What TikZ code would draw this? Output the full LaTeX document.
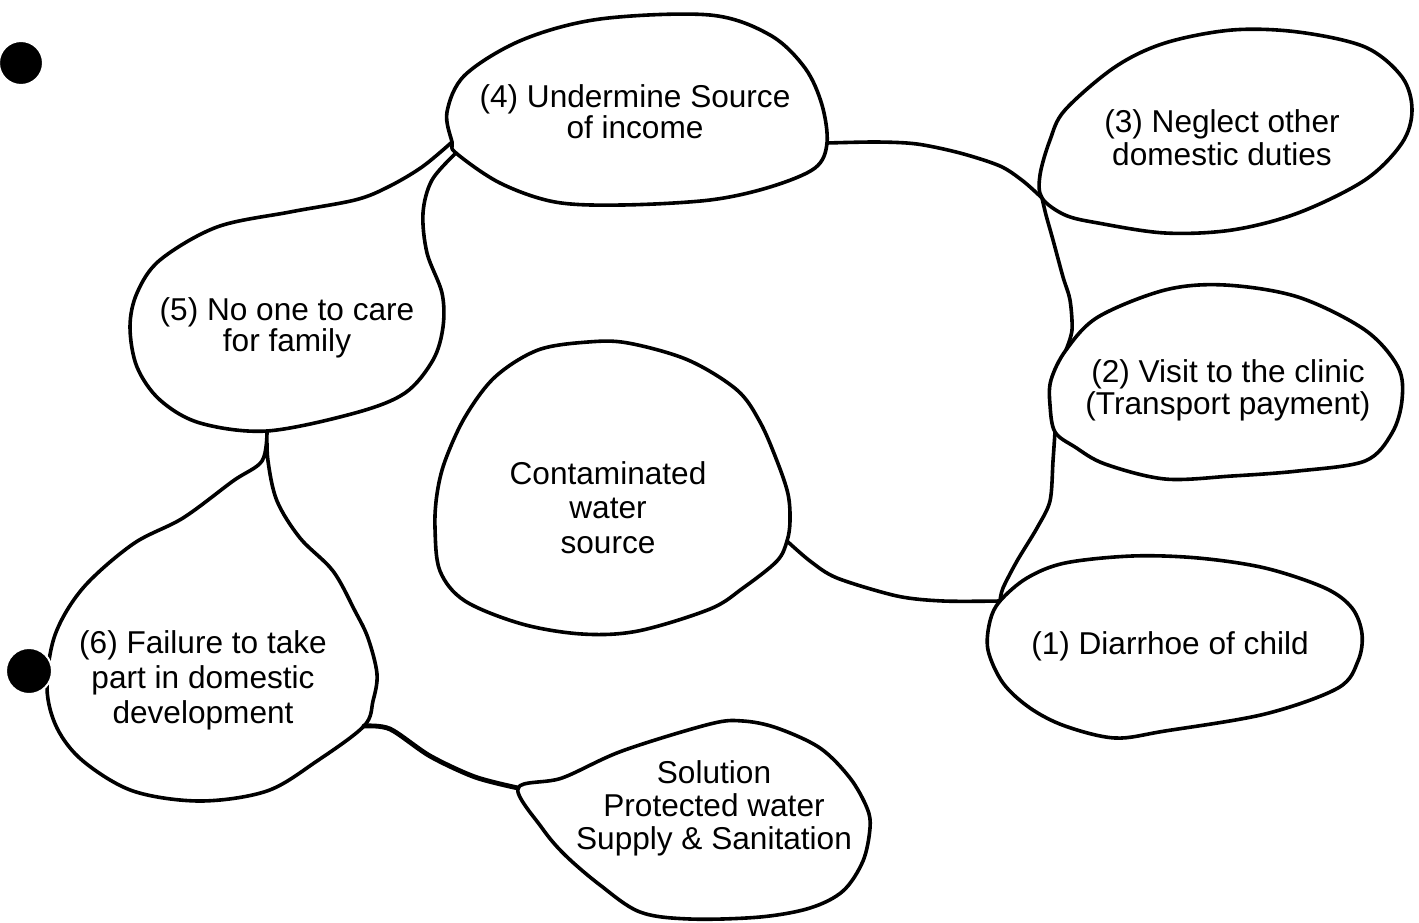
\documentclass[tikz,border=0pt]{standalone}
\usepackage{fontspec}
\setmainfont{Liberation Sans}
\newcommand{\ml}[2]{\vtop{\baselineskip=#1\relax\lineskiplimit=-20pt\halign{\hfil##\hfil\cr#2\crcr}}}
\begin{document}
\begin{tikzpicture}[x=0.5pt,y=-0.5pt,line cap=round,line join=round]
\tikzset{
  blob/.style={draw=black,line width=1.8pt},
  link/.style={draw=black,line width=1.8pt},
  heavylink/.style={draw=black,line width=2.4pt},
  lbl/.style={anchor=base,inner sep=0pt,font=\fontsize{15.8}{17}\selectfont},
  dot/.style={fill=black,draw=white,line width=1pt}
}
\fill[white] (0,0) rectangle (1419,922);
\useasboundingbox (0,0) rectangle (1419,922);

% junction coordinates
\coordinate (j4e) at (827,143);
\coordinate (j4sw) at (452,142);
\coordinate (j4sw2) at (456,153);
\coordinate (j3w) at (1042,198);
\coordinate (j2w) at (1066,350);
\coordinate (j2s) at (1055,432);
\coordinate (j1w) at (1000,601);
\coordinate (jWe) at (787,541);
\coordinate (j5s) at (267,431);
\coordinate (j6e) at (364,726);
\coordinate (jSw) at (518,788);

% (4)
\draw[blob] plot[smooth cycle,tension=0.55] coordinates {(600,19) (710,15) (770,35) (805,68) (822,105) (j4e) (815,168) (770,187) (710,200) (622,205) (555,202) (500,183) (j4sw2) (j4sw) (447,112) (465,75) (522,40)};
% (5)
\draw[blob] plot[smooth,tension=0.55] coordinates {(j4sw) (422,167) (388,187) (355,200) (290,212) (217,227) (160,260) (137,293) (130,327) (137,367) (160,400) (200,423) (j5s) (355,413) (405,393) (433,360) (443,327) (442,293) (427,253) (423,213) (432,180) (j4sw2)};
% (6)
\draw[blob] plot[smooth,tension=0.55] coordinates {(j5s) (262,461) (233,481) (183,518) (133,544) (83,588) (55,635) (47,688) (57,728) (83,761) (133,791) (200,801) (267,791) (317,761) (j6e) (373,701) (377,674) (368,638) (355,611) (333,571) (300,538) (277,501) (268,461) (j5s)};
% contaminated
\draw[blob] plot[smooth cycle,tension=0.55] coordinates {(445,461) (465,417) (495,377) (538,350) (588,342) (628,343) (688,360) (737,390) (760,422) (777,461) (788,494) (790,521) (jWe) (777,561) (743,588) (710,609) (638,631) (582,634) (522,624) (465,601) (440,571) (435,528) (437,494)};
% solution
\draw[blob] plot[smooth cycle,tension=0.55] coordinates {(jSw) (562,778) (622,751) (710,724) (743,721) (777,728) (820,748) (850,778) (867,808) (870,828) (863,861) (843,891) (810,908) (760,917) (690,919) (640,912) (600,885) (565,855) (542,828)};
% (3)
\draw[blob] plot[smooth cycle,tension=0.55] coordinates {(1065,110) (1115,67) (1165,43) (1232,30) (1298,32) (1365,47) (1402,77) (1412,110) (1402,143) (1365,180) (1298,213) (1232,230) (1165,233) (1098,223) (1065,215) (j3w) (1040,175) (1050,140)};
% (2)
\draw[blob] plot[smooth cycle,tension=0.55] coordinates {(j2w) (1098,317) (1165,290) (1225,285) (1298,297) (1365,330) (1398,367) (1402,400) (1392,433) (1365,461) (1298,471) (1232,476) (1165,479) (1105,464) (1075,447) (j2s) (1050,405) (1051,380)};
% (1)
\draw[blob] plot[smooth cycle,tension=0.55] coordinates {(j1w) (1027,578) (1065,563) (1132,556) (1198,558) (1265,568) (1325,588) (1352,608) (1362,634) (1358,661) (1338,688) (1265,714) (1165,731) (1115,738) (1065,726) (1030,708) (1003,683) (988,650) (990,621)};

% connectors
\draw[link] plot[smooth] coordinates {(j4e) (877,142) (917,144) (960,153) (1000,166) (1023,181) (j3w)};
\draw[link] plot[smooth] coordinates {(j3w) (1046,215) (1053,240) (1063,277) (1070,300) (1072,330) (j2w)};
\draw[link] plot[smooth] coordinates {(j2s) (1053,461) (1050,501) (1037,528) (1017,561) (1003,588) (j1w)};
\draw[link] plot[smooth] coordinates {(jWe) (810,561) (837,578) (897,596) (943,601) (j1w)};
\draw[heavylink] plot[smooth,tension=0.5] coordinates {(j6e) (390,729) (430,756) (475,777) (jSw)};

% dots
\filldraw[dot] (21,63) circle (22);
\filldraw[dot] (29,671) circle (23);

% labels
\node[lbl] (n4) at (635,107) {\ml{15.85pt}{(4) Undermine Source\cr of income}};
\node[lbl] (n3) at (1222,132) {\ml{16.5pt}{(3) Neglect other\cr domestic duties}};
\node[lbl] (n2) at (1228,382) {\ml{16pt}{(2) Visit to the clinic\cr (Transport payment)}};
\node[lbl] (n1) at (1170,654) {(1) Diarrhoe of child};
\node[lbl] (n5) at (287,320) {\ml{15.5pt}{(5) No one to care\cr for family}};
\node[lbl] (nW) at (608,484) {\ml{17.25pt}{Contaminated\cr water\cr source}};
\node[lbl] (n6) at (203,653) {\ml{17.5pt}{(6) Failure to take\cr part in domestic\cr development}};
\node[lbl] (nS) at (714,783) {\ml{16.5pt}{Solution\cr Protected water\cr Supply \& Sanitation}};
\end{tikzpicture}
\end{document}
